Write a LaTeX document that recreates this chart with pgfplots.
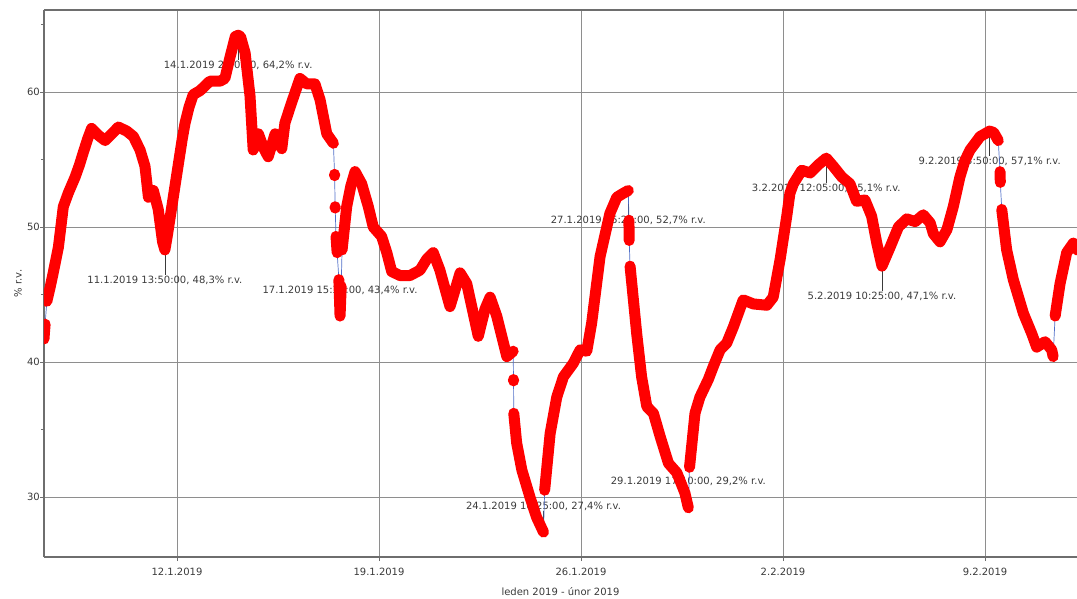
\documentclass[border=0pt]{standalone}
\usepackage{fontspec}
\setmainfont{DejaVu Sans}
\usepackage{pgfplots}
\usepackage{pgfplotstable}
\pgfplotsset{compat=1.18}

\definecolor{frame}{HTML}{6E6E6E}
\definecolor{gridc}{HTML}{8E8E8E}
\definecolor{txt}{HTML}{3A3A3A}
\definecolor{joiner}{RGB}{80,110,200}

% relative humidity, x = day of the year 2019 (12 = 12.1.2019, 33 = 2.2.2019)
% "nan" rows mark the gaps between runs of readings
\pgfplotstableread{
x y
7.39 41.7
7.41 42.3
7.43 42.8
nan nan
7.49 44.5
7.60 45.5
7.71 46.6
7.89 48.5
8.06 51.5
8.23 52.5
8.47 53.7
8.62 54.6
8.75 55.5
8.90 56.5
9.04 57.3
9.27 56.8
9.51 56.4
9.74 56.9
9.97 57.4
10.26 57.1
10.49 56.7
10.72 55.7
10.89 54.5
11.01 52.2
11.18 52.7
11.35 51.3
11.50 48.9
11.58 48.3
11.66 49.3
11.82 51.5
12.05 54.7
12.18 56.5
12.28 57.7
12.42 58.9
12.56 59.8
12.80 60.1
13.14 60.8
13.49 60.8
13.66 61.0
13.84 62.6
14.02 64.1
14.12 64.2
14.20 64.1
14.36 62.9
14.53 59.7
14.64 55.7
14.82 56.9
14.99 55.9
15.16 55.2
15.40 56.9
15.63 55.8
15.74 57.7
15.97 59.2
16.26 61.0
16.49 60.6
16.78 60.6
16.96 59.4
17.19 56.9
17.42 56.2
nan nan
17.460 53.9
17.462 53.8
nan nan
17.480 51.5
17.482 51.4
nan nan
17.51 49.3
17.55 48.1
nan nan
17.61 46.1
17.65 43.4
17.69 45.6
nan nan
17.72 48.3
17.88 51.5
18.02 53.0
18.17 54.1
18.40 53.2
18.63 51.5
18.80 50.0
19.09 49.3
19.27 48.1
19.44 46.7
19.73 46.4
20.07 46.4
20.42 46.8
20.65 47.6
20.88 48.1
21.11 46.8
21.46 44.1
21.63 45.3
21.81 46.6
22.04 45.8
22.44 41.9
22.67 43.9
22.85 44.8
23.08 43.4
23.43 40.4
23.65 40.8
nan nan
23.660 38.7
23.662 38.6
nan nan
23.67 36.2
23.77 34.0
23.95 32.0
24.23 30.0
24.46 28.5
24.70 27.4
nan nan
24.74 30.5
24.93 34.7
25.16 37.4
25.39 38.9
25.73 39.9
25.97 40.9
26.20 40.8
26.37 42.9
26.66 47.8
27.00 51.0
27.24 52.2
27.47 52.5
27.64 52.7
nan nan
27.66 50.5
27.67 49.0
nan nan
27.70 47.1
27.82 44.5
27.93 42.1
28.10 38.9
28.28 36.7
28.51 36.2
28.74 34.5
29.03 32.5
29.32 31.8
29.60 30.3
29.72 29.2
nan nan
29.76 32.2
29.95 36.2
30.12 37.4
30.41 38.7
30.59 39.7
30.82 40.9
31.05 41.4
31.28 42.6
31.62 44.6
31.97 44.3
32.44 44.2
32.66 44.8
32.90 47.6
33.13 50.8
33.24 52.5
33.36 53.2
33.65 54.2
33.94 54.0
34.22 54.6
34.50 55.1
34.74 54.5
35.04 53.7
35.32 53.2
35.55 51.9
35.84 52.0
36.07 50.8
36.25 48.8
36.43 47.1
36.71 48.5
37.00 50.0
37.29 50.6
37.58 50.4
37.86 50.9
38.10 50.3
38.21 49.5
38.44 48.9
38.68 49.8
38.90 51.5
39.13 53.7
39.30 54.9
39.48 55.7
39.83 56.7
40.16 57.1
40.30 57.0
40.46 56.4
nan nan
40.52 54.1
40.53 53.3
nan nan
40.58 51.3
40.75 48.3
40.98 46.1
41.33 43.6
41.62 42.1
41.79 41.1
42.08 41.5
42.31 40.9
42.36 40.4
nan nan
42.43 43.4
42.60 45.8
42.83 48.1
43.06 48.8
43.19 48.3
}\humidity

% labelled extremes: leader line and text below or above the reading
\newcommand{\notebelow}[3]{%
  \draw[txt, line width=0.7pt] (axis cs:#1,#2) -- ++(0pt,-25pt);
  \node[txt, font=\fontsize{10}{12}\selectfont, inner sep=0pt, anchor=center]
    at ([yshift=-30pt]axis cs:#1,#2) {#3};}
\newcommand{\noteabove}[3]{%
  \draw[txt, line width=0.7pt] (axis cs:#1,#2) -- ++(0pt,21pt);
  \node[txt, font=\fontsize{10}{12}\selectfont, inner sep=0pt, anchor=center]
    at ([yshift=26pt]axis cs:#1,#2) {#3};}

\begin{document}
\begin{tikzpicture}
\begin{axis}[
  scale only axis,
  width=1033pt, height=547pt,
  xmin=7.391, xmax=43.188,
  ymin=25.556, ymax=66.07,
  axis x line=box, axis y line=left,
  y axis line style={-},
  axis line style={frame, line width=1.2pt},
  xtick pos=left,
  xtick={12,19,26,33,40},
  xticklabels={12.1.2019,19.1.2019,26.1.2019,2.2.2019,9.2.2019},
  ytick={30,40,50,60},
  yticklabels={30,40,50,60},
  minor ytick={35,45,55,65},
  tick align=outside,
  major tick length=4pt, minor tick length=3pt,
  tick style={frame, line width=0.9pt},
  grid=major,
  major grid style={gridc, line width=0.8pt},
  ticklabel style={txt, font=\fontsize{10}{12}\selectfont},
  xticklabel style={yshift=-4pt},
  yticklabel style={inner sep=0pt, xshift=0pt},
  xlabel={leden 2019 - únor 2019},
  ylabel={\% r.v.},
  label style={txt, font=\fontsize{10}{12}\selectfont},
  xlabel style={at={(axis description cs:0.5,-0.064)}, anchor=center},
  ylabel style={at={(axis description cs:-0.0252,0.5)}, anchor=center},
]
\notebelow{11.58}{48.3}{11.1.2019 13:50:00, 48,3\% r.v.}
\notebelow{14.12}{64.2}{14.1.2019 2:50:00, 64,2\% r.v.}
\noteabove{17.65}{43.4}{17.1.2019 15:35:00, 43,4\% r.v.}
\noteabove{24.70}{27.4}{24.1.2019 16:25:00, 27,4\% r.v.}
\notebelow{27.64}{52.7}{27.1.2019 15:20:00, 52,7\% r.v.}
\noteabove{29.72}{29.2}{29.1.2019 17:10:00, 29,2\% r.v.}
\notebelow{34.50}{55.1}{3.2.2019 12:05:00, 55,1\% r.v.}
\notebelow{36.43}{47.1}{5.2.2019 10:25:00, 47,1\% r.v.}
\notebelow{40.16}{57.1}{9.2.2019 3:50:00, 57,1\% r.v.}

% thin line joining all readings, also across the gaps
\addplot[joiner, line width=0.7pt, unbounded coords=discard] table {\humidity};
% the readings themselves, drawn as a broad round-capped trace
\addplot[red, line width=11pt, line join=round, line cap=round,
  unbounded coords=jump, mark=none]
  table {\humidity};
\end{axis}
\pgfresetboundingbox
\path[use as bounding box] (-44pt,-41pt) rectangle (1033pt,557pt);
\end{tikzpicture}
\end{document}
